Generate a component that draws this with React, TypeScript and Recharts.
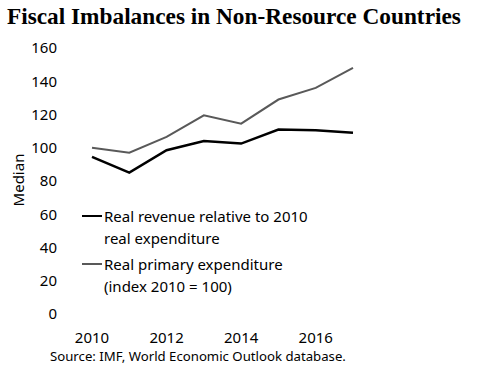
import { Line, LineChart, XAxis, YAxis } from 'recharts';

const years = [2010, 2011, 2012, 2013, 2014, 2015, 2016, 2017];
const revenue = [94.5, 85, 98.5, 104, 102.5, 111, 110.5, 109];
const expenditure = [100, 97, 106.5, 119.5, 114.5, 129, 136, 148];
const yTicks = [0, 20, 40, 60, 80, 100, 120, 140, 160];
const xTicks = [2010, 2012, 2014, 2016];
const legendLines = [
  ['Real revenue relative to 2010', 'real expenditure'],
  ['Real primary expenditure', '(index 2010 = 100)'],
];
const seriesColors = ['#000000', '#595959'];
const seriesWidths = [2.5, 2];

const data = years.map((year, i) => ({ year, revenue: revenue[i], expenditure: expenditure[i] }));

const font = '"Noto Sans", sans-serif';

function ChartLegend() {
  return (
    <div style={{ fontFamily: font, fontSize: 15, color: '#000', lineHeight: '22px' }}>
      {legendLines.map((lines, i) => (
        <div key={i} style={{ display: 'flex', alignItems: 'flex-start', marginBottom: 4 }}>
          <div
            style={{
              width: 20,
              height: seriesWidths[i],
              background: seriesColors[i],
              marginTop: 11 - seriesWidths[i] / 2,
              marginRight: 2,
            }}
          />
          <div>
            {lines.map((l) => (
              <div key={l}>{l}</div>
            ))}
          </div>
        </div>
      ))}
    </div>
  );
}

export default function App() {
  return (
    <div style={{ position: 'absolute', left: 0, top: 0, width: 480, height: 380, background: '#fff', overflow: 'hidden' }}>
      <div
        style={{
          position: 'absolute',
          left: 7,
          top: 3,
          fontFamily: '"Liberation Serif", serif',
          fontWeight: 'bold',
          fontSize: 23.3,
          whiteSpace: 'nowrap',
        }}
      >
        Fiscal Imbalances in Non-Resource Countries
      </div>
      <div
        style={{
          position: 'absolute',
          left: 18,
          top: 180,
          transform: 'translate(-50%, -50%) rotate(-90deg)',
          fontFamily: font,
          fontSize: 15,
        }}
      >
        Median
      </div>
      <div style={{ position: 'absolute', left: 0, top: 0 }}>
        <LineChart width={480} height={380} data={data} margin={{ top: 48, right: 127, bottom: 36, left: 0 }}>
          <XAxis
            dataKey="year"
            type="number"
            domain={[2010, 2017]}
            ticks={xTicks}
            axisLine={false}
            tickLine={false}
            tickSize={0}
            tickMargin={18}
            height={30}
            tick={{ fill: '#000', fontSize: 15, fontFamily: font }}
          />
          <YAxis
            domain={[0, 160]}
            ticks={yTicks}
            axisLine={false}
            tickLine={false}
            tickSize={0}
            tickMargin={35}
            width={92}
            tick={{ fill: '#000', fontSize: 15, fontFamily: font }}
          />
          <Line dataKey="revenue" name={legendLines[0].join(' ')} stroke={seriesColors[0]} strokeWidth={seriesWidths[0]} dot={false} isAnimationActive={false} />
          <Line dataKey="expenditure" name={legendLines[1].join(' ')} stroke={seriesColors[1]} strokeWidth={seriesWidths[1]} dot={false} isAnimationActive={false} />
        </LineChart>
      </div>
      <div style={{ position: 'absolute', left: 82, top: 205 }}>
        <ChartLegend />
      </div>
      <div
        style={{
          position: 'absolute',
          left: 50,
          top: 347,
          fontFamily: font,
          fontSize: 13.2,
          whiteSpace: 'nowrap',
        }}
      >
        Source: IMF, World Economic Outlook database.
      </div>
    </div>
  );
}
